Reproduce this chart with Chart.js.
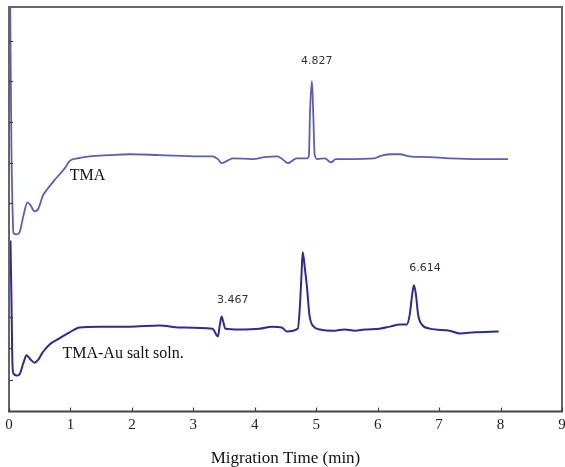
<!DOCTYPE html>
<html>
<head>
<meta charset="utf-8">
<script src="https://cdn.jsdelivr.net/npm/chart.js@4/dist/chart.umd.min.js"></script>
<style>
  html, body { margin: 0; padding: 0; background: #fff; }
  #wrap { width: 565px; height: 467px; }
</style>
</head>
<body>
<div id="wrap"><canvas id="ceChart" width="565" height="467"></canvas></div>
<script>
// ============================
// data
// ============================
const xTicks = [0, 1, 2, 3, 4, 5, 6, 7, 8, 9];

// TMA (upper trace)
const tmaTime = [0.02, 0.024, 0.04, 0.065, 0.073, 0.122, 0.171, 0.236, 0.30, 0.35, 0.415, 0.48, 0.546, 0.61, 0.74, 0.855, 0.92, 0.985,
  1.115, 1.31, 1.64, 1.96, 2.45, 3.10, 3.31, 3.40, 3.46, 3.54, 3.64, 3.97, 4.16, 4.37, 4.45, 4.54, 4.62, 4.68, 4.85, 4.88,
  4.90, 4.93, 4.95, 4.975, 5.02, 5.14, 5.24, 5.32, 5.46, 5.95, 6.03, 6.20, 6.36, 6.52, 6.85, 7.17, 7.66, 8.12];
const tmaSignal = [100, 91.8, 64.4, 46.0, 44.1, 43.8, 44.3, 48.5, 51.7, 51.0, 49.5, 50.2, 53.2, 54.7, 57.2, 59.2, 60.4, 61.9,
  62.6, 63.1, 63.4, 63.6, 63.4, 63.1, 63.1, 62.4, 61.4, 61.9, 62.6, 62.4, 62.9, 63.1, 62.4, 61.4, 62.1, 62.6, 62.6, 63.1,
  74.5, 81.7, 74.5, 63.4, 62.4, 62.6, 61.6, 62.4, 62.4, 62.6, 63.1, 63.6, 63.6, 63.1, 62.9, 62.6, 62.4, 62.4];

// TMA-Au salt soln. (lower trace)
const auTime = [0.024, 0.04, 0.057, 0.073, 0.122, 0.171, 0.236, 0.285, 0.35, 0.415, 0.48, 0.546, 0.66, 0.82, 0.985, 1.15, 1.47,
  1.96, 2.45, 2.78, 3.31, 3.40, 3.43, 3.46, 3.49, 3.52, 3.75, 4.08, 4.28, 4.44, 4.52, 4.70, 4.73, 4.76, 4.78, 4.81, 4.85,
  4.89, 4.96, 5.06, 5.30, 5.46, 5.63, 5.79, 6.03, 6.20, 6.36, 6.47, 6.52, 6.56, 6.59, 6.62, 6.66, 6.72, 6.85, 7.17, 7.34,
  7.58, 7.97];
const auSignal = [42.3, 27.5, 11.4, 9.4, 8.9, 9.2, 12.1, 13.9, 12.9, 12.1, 12.9, 14.6, 16.6, 18.1, 19.6, 20.8, 21.0,
  21.0, 21.3, 20.8, 20.5, 18.6, 21.3, 23.5, 22.0, 20.5, 20.3, 20.5, 21.0, 20.8, 19.8, 20.5, 25.0, 33.7, 39.4, 36.1, 30.7,
  23.8, 21.0, 20.3, 20.0, 20.3, 20.0, 20.3, 20.5, 21.0, 21.5, 21.5, 23.8, 28.7, 31.2, 29.2, 23.8, 21.5, 20.5, 20.0, 19.3,
  19.6, 19.8];

// left-axis tick marks (signal units, unlabeled)
const yTickValues = [91.6, 81.7, 71.5, 61.4, 51.5, 23.3, 15.6, 7.9];

// peak labels and trace names
const peakLabels = ['4.827', '3.467', '6.614'];
const peakLabelX = [5.01, 3.64, 6.77];
const peakLabelY = [86.6, 27.5, 35.4];
const traceNames = ['TMA', 'TMA-Au salt soln.'];
const traceNameX = [0.99, 0.87];
const traceNameY = [58.2, 14.4];

const toPoints = (xs, ys) => xs.map((x, i) => ({ x: x, y: ys[i] }));

// ============================
// frame, inner ticks and text
// ============================
const framePlugin = {
  id: 'frame',
  afterDatasetsDraw(chart) {
    const { ctx, chartArea: a, scales: { x, y } } = chart;
    ctx.save();

    // trace names with white backing
    ctx.font = '16px "Liberation Serif", serif';
    ctx.textBaseline = 'middle';
    ctx.textAlign = 'left';
    traceNames.forEach((t, i) => {
      const px = x.getPixelForValue(traceNameX[i]);
      const py = y.getPixelForValue(traceNameY[i]);
      const w = ctx.measureText(t).width;
      ctx.fillStyle = '#fff';
      ctx.fillRect(px - 3, py - 8, w + 4, 16);
      ctx.fillStyle = '#111';
      ctx.fillText(t, px, py);
    });

    // peak labels
    ctx.font = '11px "DejaVu Sans", sans-serif';
    ctx.textAlign = 'center';
    ctx.fillStyle = '#333';
    peakLabels.forEach((t, i) => {
      ctx.fillText(t, x.getPixelForValue(peakLabelX[i]), y.getPixelForValue(peakLabelY[i]));
    });

    // box
    ctx.strokeStyle = '#666';
    ctx.lineWidth = 2;
    ctx.beginPath();
    ctx.moveTo(a.left, a.bottom);
    ctx.lineTo(a.left, a.top);
    ctx.lineTo(a.right, a.top);
    ctx.lineTo(a.right, a.bottom);
    ctx.stroke();
    ctx.strokeStyle = '#444';
    ctx.beginPath();
    ctx.moveTo(a.left - 1, a.bottom);
    ctx.lineTo(a.right + 1, a.bottom);
    ctx.stroke();

    // inner ticks
    ctx.lineWidth = 1.2;
    xTicks.forEach(v => {
      const px = Math.round(x.getPixelForValue(v)) + 0.5;
      ctx.beginPath();
      ctx.moveTo(px, a.bottom);
      ctx.lineTo(px, a.bottom - 4);
      ctx.stroke();
    });
    yTickValues.forEach(v => {
      const py = Math.round(y.getPixelForValue(v)) + 0.5;
      ctx.beginPath();
      ctx.moveTo(a.left, py);
      ctx.lineTo(a.left + 4, py);
      ctx.stroke();
    });
    ctx.restore();
  }
};

new Chart(document.getElementById('ceChart'), {
  type: 'line',
  data: {
    datasets: [
      {
        label: traceNames[0],
        data: toPoints(tmaTime, tmaSignal),
        borderColor: '#5c5cbf',
        borderWidth: 1.8,
        pointRadius: 0,
        cubicInterpolationMode: 'monotone'
      },
      {
        label: traceNames[1],
        data: toPoints(auTime, auSignal),
        borderColor: '#2b2b9e',
        borderWidth: 2,
        pointRadius: 0,
        cubicInterpolationMode: 'monotone'
      }
    ]
  },
  options: {
    responsive: false,
    animation: false,
    layout: { padding: { left: 9, top: 7, right: 3, bottom: 0 } },
    plugins: {
      legend: { display: false },
      tooltip: { enabled: false }
    },
    scales: {
      x: {
        type: 'linear',
        min: 0,
        max: 9,
        afterBuildTicks: (scale) => { scale.ticks = xTicks.map(v => ({ value: v })); },
        // let the end labels hang over the edges like the original
        afterFit: (scale) => { scale.paddingLeft = 0; scale.paddingRight = 0; },
        grid: { display: false, drawTicks: false },
        border: { display: false },
        ticks: {
          padding: 4,
          color: '#222',
          font: { family: '"Liberation Serif", serif', size: 15 }
        },
        title: {
          display: true,
          text: 'Migration Time (min)',
          color: '#111',
          padding: { top: 11, bottom: -2 },
          font: { family: '"Liberation Serif", serif', size: 17 }
        }
      },
      y: {
        type: 'linear',
        min: 0,
        max: 100,
        display: false
      }
    }
  },
  plugins: [framePlugin]
});
</script>
</body>
</html>
